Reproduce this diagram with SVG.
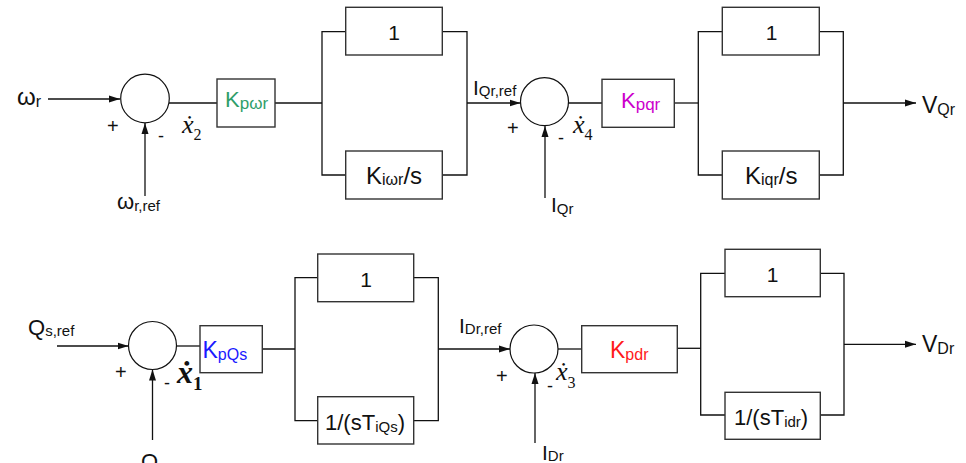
<svg xmlns="http://www.w3.org/2000/svg" width="966" height="463" viewBox="0 0 966 463">
<style>
.bx{fill:#fff;stroke:#333;stroke-width:1.4}
.sj{fill:#fff;stroke:#111;stroke-width:1.2}
.ln{fill:none;stroke:#111;stroke-width:1.3}
.t{font-family:"Liberation Sans",Arial,sans-serif;fill:#111}
.xd{font-family:"Liberation Serif","DejaVu Serif",serif;font-style:italic;fill:#111}
</style>
<defs>
<marker id="ah" markerUnits="userSpaceOnUse" markerWidth="12" markerHeight="8" refX="11" refY="4" orient="auto">
<path d="M0,0.5 L11,4 L0,7.5 z" fill="#111"/>
</marker>
</defs>
<g id="connectors">
<line class="ln" x1="48" y1="99" x2="120" y2="99" marker-end="url(#ah)"/>
<line class="ln" x1="145" y1="196" x2="145" y2="123" marker-end="url(#ah)"/>
<line class="ln" x1="169" y1="103" x2="217" y2="103"/>
<line class="ln" x1="275" y1="103" x2="322" y2="103"/>
<polyline class="ln" points="346,31.7 322,31.7 322,175 346,175"/>
<polyline class="ln" points="442,31.7 467,31.7 467,175 442,175"/>
<line class="ln" x1="467" y1="103" x2="520.5" y2="103" marker-end="url(#ah)"/>
<line class="ln" x1="545" y1="198" x2="545" y2="126" marker-end="url(#ah)"/>
<line class="ln" x1="568" y1="103" x2="602" y2="103"/>
<line class="ln" x1="674" y1="103" x2="698.3" y2="103"/>
<polyline class="ln" points="722.3,31.7 698.3,31.7 698.3,175 722.3,175"/>
<polyline class="ln" points="819.3,31.7 843.3,31.7 843.3,175 819.3,175"/>
<line class="ln" x1="843.3" y1="103" x2="916" y2="103" marker-end="url(#ah)"/>
<line class="ln" x1="57" y1="346" x2="128.5" y2="346" marker-end="url(#ah)"/>
<line class="ln" x1="152.5" y1="440" x2="152.5" y2="369.5" marker-end="url(#ah)"/>
<line class="ln" x1="176.5" y1="346" x2="200" y2="346"/>
<line class="ln" x1="262.3" y1="349" x2="295" y2="349"/>
<polyline class="ln" points="317.7,277.7 295,277.7 295,420.7 317.7,420.7"/>
<polyline class="ln" points="413.7,277.7 438.3,277.7 438.3,420.7 413.7,420.7"/>
<line class="ln" x1="438.3" y1="349" x2="510" y2="349" marker-end="url(#ah)"/>
<line class="ln" x1="535" y1="443" x2="535" y2="373" marker-end="url(#ah)"/>
<line class="ln" x1="558" y1="349" x2="581.7" y2="349"/>
<line class="ln" x1="677.3" y1="348.3" x2="700.7" y2="348.3"/>
<polyline class="ln" points="725,273.3 700.7,273.3 700.7,415 725,415"/>
<polyline class="ln" points="820.3,273.3 844,273.3 844,415 820.3,415"/>
<line class="ln" x1="844" y1="344.3" x2="916" y2="344.3" marker-end="url(#ah)"/>
</g>

<g id="in_wr"><text class="t" x="17" y="105" font-size="24">ω<tspan font-size="16" dy="2">r</tspan></text></g>
<g id="sum2">
<circle class="sj" cx="145" cy="98.5" r="24.3"/>
<text class="t" x="107" y="133" font-size="20">+</text>
<text class="t" x="158" y="142" font-size="18">-</text>
</g>
<g id="in_wrref"><text class="t" x="117" y="209" font-size="22">ω<tspan font-size="15" dy="2">r,ref</tspan></text></g>
<g id="x2"><text class="xd" x="182" y="133" font-size="26">ẋ<tspan font-size="16" font-style="normal" dy="7">2</tspan></text></g>
<g id="Kpwr"><rect class="bx" x="217" y="79" width="58" height="48"/>
<text class="t" x="225" y="107" font-size="22" style="fill:#2f9e6a">K<tspan font-size="17" dy="2">pωr</tspan></text></g>
<g id="one_a"><rect class="bx" x="345.7" y="7.3" width="96.6" height="47.7"/>
<text class="t" x="394" y="40" font-size="21" text-anchor="middle">1</text></g>
<g id="Kiwr"><rect class="bx" x="345.7" y="151" width="96.6" height="48"/>
<text class="t" x="366" y="184" font-size="24">K<tspan font-size="16" dy="1">iωr</tspan><tspan dy="-1">/s</tspan></text></g>
<g id="lbl_iqrref"><text class="t" x="473" y="95" font-size="21">I<tspan font-size="15" dy="1">Qr,ref</tspan></text></g>
<g id="sum4">
<circle class="sj" cx="544.5" cy="101.7" r="24"/>
<text class="t" x="507" y="135" font-size="20">+</text>
<text class="t" x="558" y="144" font-size="18">-</text>
</g>
<g id="x4"><text class="xd" x="573" y="133" font-size="26">ẋ<tspan font-size="16" font-style="normal" dy="7">4</tspan></text></g>
<g id="in_iqr"><text class="t" x="551" y="212" font-size="21">I<tspan font-size="15" dy="2">Qr</tspan></text></g>
<g id="Kpqr"><rect class="bx" x="602" y="79.3" width="72.3" height="48"/>
<text class="t" x="621" y="108" font-size="22" style="fill:#cc00cc">K<tspan font-size="17" dy="2">pqr</tspan></text></g>
<g id="one_b"><rect class="bx" x="722.3" y="7.3" width="97" height="47.7"/>
<text class="t" x="771.7" y="40" font-size="21" text-anchor="middle">1</text></g>
<g id="Kiqr"><rect class="bx" x="722.3" y="151" width="97" height="48"/>
<text class="t" x="745" y="184" font-size="24">K<tspan font-size="16" dy="1">iqr</tspan><tspan dy="-1">/s</tspan></text></g>
<g id="out_vqr"><text class="t" x="922" y="113" font-size="23">V<tspan font-size="16" dy="2">Qr</tspan></text></g>

<g id="in_qsref"><text class="t" x="28" y="335" font-size="22">Q<tspan font-size="15" dy="1">s,ref</tspan></text></g>
<g id="sum1">
<circle class="sj" cx="152.5" cy="345.5" r="24"/>
<text class="t" x="115" y="379" font-size="20">+</text>
<text class="t" x="164" y="389" font-size="18">-</text>
</g>
<g id="in_qs"><text class="t" x="141" y="469" font-size="22">Q</text></g>
<g id="x1"><text class="xd" x="177" y="383" font-size="32" font-weight="bold">ẋ<tspan font-size="19" font-style="normal" dy="7">1</tspan></text></g>
<g id="KpQs"><rect class="bx" x="200" y="325.7" width="62.3" height="47"/>
<text class="t" x="202.5" y="358" font-size="23" style="fill:#1a1aff">K<tspan font-size="16" dy="2">pQs</tspan></text></g>
<g id="one_c"><rect class="bx" x="317.7" y="254" width="96" height="47.7"/>
<text class="t" x="366" y="287" font-size="21" text-anchor="middle">1</text></g>
<g id="sTiQs"><rect class="bx" x="317.7" y="396.7" width="96" height="47.3"/>
<text class="t" x="325" y="430" font-size="22">1/(sT<tspan font-size="15" dy="2">iQs</tspan><tspan dy="-2">)</tspan></text></g>
<g id="lbl_idrref"><text class="t" x="459" y="333" font-size="21">I<tspan font-size="15" dy="1">Dr,ref</tspan></text></g>
<g id="sum3">
<circle class="sj" cx="534" cy="349" r="24"/>
<text class="t" x="496" y="383" font-size="20">+</text>
<text class="t" x="547" y="392" font-size="18">-</text>
</g>
<g id="x3"><text class="xd" x="556" y="380" font-size="26">ẋ<tspan font-size="16" font-style="normal" dy="8">3</tspan></text></g>
<g id="in_idr"><text class="t" x="542" y="460" font-size="21">I<tspan font-size="15" dy="1">Dr</tspan></text></g>
<g id="Kpdr"><rect class="bx" x="581.7" y="325.7" width="95.6" height="47"/>
<text class="t" x="610" y="358" font-size="23" style="fill:#ff1a1a">K<tspan font-size="16" dy="2">pdr</tspan></text></g>
<g id="one_d"><rect class="bx" x="725" y="249.3" width="95.3" height="47.4"/>
<text class="t" x="772.7" y="282" font-size="21" text-anchor="middle">1</text></g>
<g id="sTidr"><rect class="bx" x="725" y="392.3" width="95.3" height="47"/>
<text class="t" x="734" y="425" font-size="22">1/(sT<tspan font-size="15" dy="2">idr</tspan><tspan dy="-2">)</tspan></text></g>
<g id="out_vdr"><text class="t" x="922" y="352" font-size="23">V<tspan font-size="16" dy="2">Dr</tspan></text></g>
</svg>
